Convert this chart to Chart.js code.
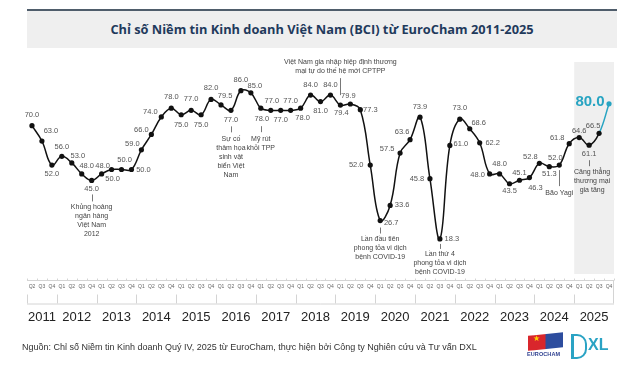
<!DOCTYPE html>
<html><head><meta charset="utf-8">
<script src="https://cdn.jsdelivr.net/npm/chart.js@4.4.1/dist/chart.umd.min.js"></script>
<style>
html,body{margin:0;padding:0;background:#fff;}
#wrap{position:relative;width:640px;height:376px;overflow:hidden;background:#fff;}
#c{position:absolute;left:0;top:0;}
#title{position:absolute;left:27px;top:9px;width:590px;height:39px;background:#efefef;border-top:2px solid #4f5d6b;box-sizing:border-box;text-align:center;font-family:"Open Sans";font-weight:700;font-size:12.8px;color:#1f3a5c;line-height:37px;white-space:nowrap;}
#src{position:absolute;left:22px;top:342px;font-family:"Liberation Sans";font-size:9px;color:#333;white-space:nowrap;}
#flag{position:absolute;left:528px;top:334px;width:35px;height:15px;background:linear-gradient(90deg,#d9262c 0,#d9262c 48%,#2d4d9e 52%,#2d4d9e 100%);transform:skewY(-6deg);}
#star{position:absolute;left:533px;top:335px;color:#ffd200;font-size:8px;line-height:8px;}
#euro{position:absolute;left:527px;top:351px;font-family:"Liberation Sans";font-weight:700;font-size:5.5px;color:#2d3f8f;letter-spacing:0.1px;}
#dlogo{position:absolute;left:571px;top:334px;width:11px;height:21px;border:2.5px solid #2aa3c4;border-left-width:3px;border-radius:0 10px 10px 0;}
#xl{position:absolute;left:588px;top:335px;font-family:"Liberation Sans";font-weight:700;font-size:16px;color:#2aa3c4;line-height:20px;}
</style></head>
<body><div id="wrap">
<canvas id="c" width="640" height="376"></canvas>
<div id="title">Chỉ số Niềm tin Kinh doanh Việt Nam (BCI) từ EuroCham 2011-2025</div>
<div id="src">Nguồn: Chỉ số Niềm tin Kinh doanh Quý IV, 2025 từ EuroCham, thực hiện bởi Công ty Nghiên cứu và Tư vấn DXL</div>
<div id="flag"></div><div id="star">★</div><div id="euro">EUROCHAM</div>
<div id="dlogo"></div><div id="xl">XL</div>
</div>
<script>
// ---- data ----
const years = [2011,2012,2013,2014,2015,2016,2017,2018,2019,2020,2021,2022,2023,2024,2025];
const quarterNames = ['Q1','Q2','Q3','Q4'];
const firstQuarterOfFirstYear = 1; // series starts at Q2 2011
const bciValues = [
  70.0,63.0,52.0,
  56.0,53.0,48.0,45.0,
  48.0,50.0,50.0,50.0,
  59.0,66.0,74.0,78.0,
  75.0,77.0,75.0,82.0,
  79.5,77.0,86.0,85.0,
  78.0,77.0,77.0,77.0,
  78.0,84.0,81.0,84.0,
  79.4,79.9,77.3,52.0,
  26.7,33.6,57.5,63.6,
  73.9,45.8,18.3,61.0,
  73.0,68.6,62.2,48.0,
  48.0,43.5,45.1,46.3,
  52.8,51.3,52.0,61.8,
  64.6,61.1,66.5,80.0
];
const highlightYear = 2025;
const annotationTexts = [
  {i:6,  lines:['Khủng hoảng','ngân hàng','Việt Nam','2012']},
  {i:20, lines:['Sự cố','thảm họa','sinh vật','biển Việt','Nam']},
  {i:23, lines:['Mỹ rút','khỏi TPP']},
  {i:31, lines:['Việt Nam gia nhập hiệp định thương','mại tự do thế hệ mới CPTPP']},
  {i:35, lines:['Lần đầu tiên','phong tỏa vi dịch','bệnh COVID-19']},
  {i:41, lines:['Lần thứ 4','phong tỏa vi dịch','bệnh COVID-19']},
  {i:53, lines:['Bão Yagi']},
  {i:56, lines:['Căng thẳng','thương mại','gia tăng']}
];

// ---- derived categories ----
const categories = [];
const categoryYear = [];
const categoryQuarter = [];
years.forEach((y, yi) => quarterNames.forEach((q, qi) => {
  if (yi === 0 && qi < firstQuarterOfFirstYear) return;
  categories.push(y + ' ' + q); categoryYear.push(y); categoryQuarter.push(q);
}));

// ---- styling (label placement relative to point) ----
const labelOffsets = [
 [0,-11],[9,-10],[0,9],
 [0,-9],[6,-7],[5,-8],[0,8],
 [1,-8],[1,9],[3,-10],[12,0],
 [-9,-6],[-10,-5],[-11,-5],[0,-11],
 [0,10],[0,-11],[0,10],[0,-11],
 [4,-9],[0,10],[0,-11],[4,-7],
 [1,11],[1,-9],[0,10],[0,-9],
 [2,10],[0,-10],[0,9],[0,-10],
 [1,8],[-2,-8],[10,0],[-14,0],
 [11,2],[12,0],[-13,-4],[-8,-8],
 [0,-10],[-13,0],[12,0],[11,-1],
 [0,-11],[9,-6],[13,0],[-12,1],
 [0,-10],[0,7],[0,-7],[6,10],
 [-9,-6],[0,7],[-4,-7],[-12,-6],
 [0,-7],[0,9],[-6,-7],[-19,-2]
];
const annotationStyle = {
  6:{leader:[14,21],textY:27},
  20:{leader:[16,22],textY:29},
  23:{leader:[18,24],textY:31},
  31:{leader:[-10,-27],textY:-43},
  35:{leader:[7,13],textY:19},
  41:{leader:[5,10],textY:15},
  53:{leader:[5,21],textY:28},
  56:{leader:[15,21],textY:27,dx:3}
};
const LINE = '#111111', CYAN = '#27a4c2', GRID = '#d4d4d4';
const lastIdx = bciValues.length - 1;

const bgPlugin = {
  id:'bg',
  beforeDatasetsDraw(chart){
    const ctx = chart.ctx, xs = chart.scales.x, ca = chart.chartArea;
    const first = categoryYear.indexOf(highlightYear);
    const x0 = (xs.getPixelForValue(first-1) + xs.getPixelForValue(first))/2;
    ctx.save();
    ctx.fillStyle = '#efefef';
    ctx.fillRect(x0, ca.top+2, ca.right - x0, ca.bottom - 5 - ca.top - 2);
    ctx.restore();
  }
};

const drawPlugin = {
  id:'draws',
  afterDatasetsDraw(chart){
    const ctx = chart.ctx, meta = chart.getDatasetMeta(0);
    const xs = chart.scales.x, ca = chart.chartArea;
    ctx.save();
    // value labels
    ctx.textAlign = 'center'; ctx.textBaseline = 'middle';
    meta.data.forEach((pt, i) => {
      const [dx, dy] = labelOffsets[i];
      if (i === lastIdx) { ctx.font = 'bold 15px "Liberation Sans"'; ctx.fillStyle = CYAN; }
      else { ctx.font = '7.5px "Liberation Sans"'; ctx.fillStyle = '#555'; }
      ctx.fillText(bciValues[i].toFixed(1), pt.x + dx, pt.y + dy);
    });
    // annotations
    ctx.font = '7px "Liberation Sans"'; ctx.fillStyle = '#444';
    ctx.strokeStyle = '#555'; ctx.lineWidth = 0.8;
    annotationTexts.forEach(a => {
      const s = annotationStyle[a.i], pt = meta.data[a.i];
      const x = Math.round(pt.x) + 0.5;
      ctx.beginPath(); ctx.moveTo(x, pt.y + s.leader[0]); ctx.lineTo(x, pt.y + s.leader[1]); ctx.stroke();
      a.lines.forEach((ln, k) => ctx.fillText(ln, pt.x + (s.dx||0), pt.y + s.textY + k*9));
    });
    // axis
    const yTop = ca.bottom + 1.5;
    ctx.strokeStyle = GRID; ctx.lineWidth = 1;
    ctx.beginPath(); ctx.moveTo(ca.left, yTop); ctx.lineTo(ca.right, yTop); ctx.stroke();
    const step = xs.getPixelForValue(1) - xs.getPixelForValue(0);
    for (let i = 0; i <= categories.length; i++) {
      const bx = Math.round(xs.getPixelForValue(0) - step/2 + i*step) + 0.5;
      ctx.beginPath(); ctx.moveTo(bx, yTop - 2); ctx.lineTo(bx, yTop); ctx.stroke();
    }
    ctx.font = '5px "Liberation Sans"'; ctx.fillStyle = '#666';
    categories.forEach((c, i) => ctx.fillText(categoryQuarter[i], xs.getPixelForValue(i), yTop + 6.5));
    const yb1 = yTop + 14, yb2 = yTop + 23;
    ctx.beginPath(); ctx.moveTo(ca.left, yb2 + 0.5); ctx.lineTo(ca.right, yb2 + 0.5); ctx.stroke();
    ctx.font = '13px "Liberation Sans"'; ctx.fillStyle = '#222';
    years.forEach(y => {
      const f = categoryYear.indexOf(y), l = categoryYear.lastIndexOf(y);
      const xl = f === 0 ? ca.left : (xs.getPixelForValue(f-1) + xs.getPixelForValue(f))/2;
      const xr = l === lastIdx ? ca.right : (xs.getPixelForValue(l) + xs.getPixelForValue(l+1))/2;
      ctx.beginPath(); ctx.moveTo(Math.round(xl)+0.5, yb1); ctx.lineTo(Math.round(xl)+0.5, yb2); ctx.stroke();
      if (l === lastIdx) { ctx.beginPath(); ctx.moveTo(Math.round(xr)-0.5, yTop); ctx.lineTo(Math.round(xr)-0.5, yb2); ctx.stroke(); }
      ctx.fillText(String(y), (xl + xr)/2, yTop + 37);
    });
    ctx.restore();
  }
};

new Chart(document.getElementById('c'), {
  type:'line',
  data:{
    labels: categories,
    datasets:[{
      data: bciValues,
      borderColor: LINE,
      borderWidth: 1.5,
      tension: 0.4,
      pointRadius: 2.6,
      pointBackgroundColor: bciValues.map((v,i) => i === lastIdx ? CYAN : LINE),
      pointBorderColor: bciValues.map((v,i) => i === lastIdx ? CYAN : LINE),
      pointBorderWidth: 0,
      segment:{ borderColor: c => c.p1DataIndex === lastIdx ? CYAN : LINE },
      clip: false
    }]
  },
  options:{
    responsive:false, animation:false, devicePixelRatio:1,
    layout:{ padding:{ left:27, right:26, top:60, bottom:97 } },
    scales:{
      x:{ display:false, offset:true },
      y:{ display:false, min:0, max:100 }
    },
    plugins:{ legend:{display:false}, tooltip:{enabled:false}, title:{display:false} }
  },
  plugins:[bgPlugin, drawPlugin]
});
</script>
</body></html>
